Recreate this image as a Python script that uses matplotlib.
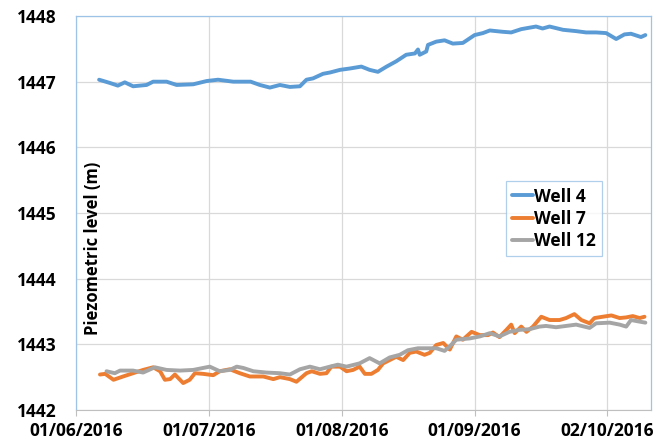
"""
plot.py: piezometric levels at wells 4, 7 and 12, June-October 2016.
Writes out.png (668x445).
"""
import matplotlib
matplotlib.use("Agg")
import matplotlib.pyplot as plt
import numpy as np
import pandas as pd

BLUE, ORANGE, GREY = "#5B9BD5", "#ED7D31", "#A5A5A5"
FRAME, GRID = "#9DC3E6", "#D9D9D9"
FONT = "Open Sans"

START = pd.Timestamp("2016-06-01")
X_MAX_DAYS = 132
TICK_DAYS = [0, 30.5, 61, 91.5, 122]
TICK_LABELS = ["01/06/2016", "01/07/2016", "01/08/2016", "01/09/2016", "02/10/2016"]
Y_TICKS = [1442, 1443, 1444, 1445, 1446, 1447, 1448]

# days since 01/06/2016, level (m)
well4_days = [5.3, 7.8, 9.6, 11.2, 13.1, 16.2, 17.7, 20.8, 23.1, 26.9, 30.0, 32.6,
              36.1, 40.1, 42.2, 44.5, 46.8, 49.1, 51.4, 52.9, 54.4, 56.7, 58.3,
              60.6, 62.8, 65.5, 67.4, 69.3, 71.3, 73.5, 75.8, 77.8, 78.5, 78.9,
              80.4, 80.8, 82.7, 84.6, 86.5, 88.8, 91.5, 93.4, 95.0, 97.9, 99.9,
              102.2, 105.6, 107.1, 108.7, 111.8, 114.8, 117.1, 119.4, 121.7,
              124.0, 125.9, 127.4, 129.7, 130.7]
well4_level = [1447.03, 1446.98, 1446.94, 1446.99, 1446.93, 1446.95, 1447.00,
               1447.00, 1446.95, 1446.96, 1447.01, 1447.03, 1447.00, 1447.00,
               1446.95, 1446.91, 1446.95, 1446.92, 1446.93, 1447.03, 1447.05,
               1447.12, 1447.14, 1447.18, 1447.20, 1447.23, 1447.18, 1447.15,
               1447.23, 1447.31, 1447.41, 1447.43, 1447.49, 1447.41, 1447.46,
               1447.56, 1447.61, 1447.63, 1447.58, 1447.59, 1447.71, 1447.74,
               1447.78, 1447.76, 1447.75, 1447.80, 1447.84, 1447.81, 1447.84,
               1447.79, 1447.77, 1447.75, 1447.75, 1447.74, 1447.65, 1447.72,
               1447.73, 1447.68, 1447.71]

well7_days = [5.5, 6.7, 8.6, 10.8, 13.1, 15.4, 17.7, 19.3, 20.4, 21.6, 22.7, 24.6,
              26.1, 27.3, 29.2, 31.5, 33.0, 35.3, 37.6, 39.9, 43.0, 45.3, 46.8,
              49.1, 50.6, 52.9, 54.1, 56.0, 57.5, 58.6, 60.6, 62.1, 63.6, 65.1,
              66.3, 67.8, 69.3, 70.5, 72.0, 73.5, 75.1, 76.6, 78.1, 80.0, 81.2,
              82.7, 84.3, 85.8, 87.3, 88.8, 90.8, 92.7, 94.6, 95.7, 97.2, 98.8,
              99.9, 100.7, 102.2, 103.4, 104.9, 106.8, 108.7, 111.0, 112.5,
              114.4, 116.0, 117.9, 119.0, 120.9, 122.9, 124.8, 126.3, 127.8,
              129.4, 130.5]
well7_level = [1442.54, 1442.55, 1442.46, 1442.51, 1442.56, 1442.61, 1442.65,
               1442.59, 1442.46, 1442.47, 1442.54, 1442.41, 1442.46, 1442.56,
               1442.55, 1442.53, 1442.59, 1442.62, 1442.56, 1442.51, 1442.51,
               1442.47, 1442.50, 1442.47, 1442.43, 1442.56, 1442.59, 1442.55,
               1442.56, 1442.66, 1442.66, 1442.59, 1442.61, 1442.66, 1442.55,
               1442.55, 1442.61, 1442.71, 1442.76, 1442.81, 1442.76, 1442.87,
               1442.89, 1442.84, 1442.87, 1442.99, 1443.02, 1442.92, 1443.12,
               1443.07, 1443.19, 1443.14, 1443.14, 1443.18, 1443.11, 1443.22,
               1443.30, 1443.17, 1443.27, 1443.19, 1443.27, 1443.42, 1443.37,
               1443.37, 1443.40, 1443.46, 1443.37, 1443.32, 1443.40, 1443.42,
               1443.44, 1443.40, 1443.41, 1443.43, 1443.40, 1443.42]

well12_days = [7.0, 8.9, 10.1, 13.1, 15.4, 18.1, 20.8, 23.9, 26.9, 30.7, 33.0,
               35.3, 36.9, 38.4, 40.7, 43.7, 46.8, 49.1, 51.4, 53.7, 56.0, 58.3,
               60.1, 62.1, 65.1, 67.4, 69.7, 72.0, 74.3, 76.2, 78.5, 81.2, 82.7,
               84.6, 85.8, 87.3, 90.4, 92.7, 95.0, 97.2, 99.5, 101.8, 104.1,
               106.4, 107.9, 110.2, 112.5, 114.8, 117.9, 119.4, 122.5, 124.8,
               126.3, 127.4, 129.0, 130.7]
well12_level = [1442.59, 1442.56, 1442.60, 1442.60, 1442.57, 1442.65, 1442.61,
                1442.60, 1442.61, 1442.66, 1442.59, 1442.61, 1442.66, 1442.64,
                1442.59, 1442.57, 1442.56, 1442.54, 1442.62, 1442.66, 1442.62,
                1442.66, 1442.69, 1442.66, 1442.71, 1442.79, 1442.71, 1442.80,
                1442.84, 1442.91, 1442.94, 1442.94, 1442.94, 1442.90, 1442.97,
                1443.07, 1443.09, 1443.12, 1443.17, 1443.12, 1443.19, 1443.22,
                1443.23, 1443.27, 1443.28, 1443.26, 1443.28, 1443.30, 1443.25,
                1443.32, 1443.33, 1443.30, 1443.27, 1443.37, 1443.35, 1443.33]


def to_dates(days):
    return START + pd.to_timedelta(np.asarray(days), unit="D")


def main():
    plt.rcParams.update({"font.family": FONT, "font.weight": "bold"})
    fig = plt.figure(figsize=(6.68, 4.45), dpi=100)
    ax = fig.add_axes([0.1138, 0.0787, 0.8608, 0.8853])

    series = [("Well 4", well4_days, well4_level, BLUE),
              ("Well 7", well7_days, well7_level, ORANGE),
              ("Well 12", well12_days, well12_level, GREY)]
    for name, d, v, c in series:
        ax.plot(to_dates(d), v, color=c, lw=2.8, label=name,
                solid_capstyle="round", solid_joinstyle="round")

    ax.set_xlim(START, START + pd.Timedelta(days=X_MAX_DAYS))
    ax.set_ylim(Y_TICKS[0], Y_TICKS[-1])
    ax.set_xticks(to_dates(TICK_DAYS))
    ax.set_xticklabels(TICK_LABELS)
    ax.set_yticks(Y_TICKS)
    ax.tick_params(axis="x", labelsize=12.5, length=4, color="#BFBFBF", pad=5)
    ax.tick_params(axis="y", labelsize=12.5, length=0, pad=14)

    ax.grid(True, color=GRID, lw=0.9)
    ax.set_axisbelow(True)
    for side in ("top", "right", "left"):
        ax.spines[side].set_color(FRAME)
        ax.spines[side].set_linewidth(0.9)
    ax.spines["bottom"].set_color("#BFBFBF")

    fig.text(93 / 668, 1 - 248 / 445, "Piezometric level (m)", rotation=90,
             ha="center", va="center", fontsize=12, fontweight="bold")

    leg = ax.legend(loc="upper left", bbox_to_anchor=(0.748, 0.58),
                    fontsize=12.5, frameon=True, fancybox=False,
                    handlelength=1.2, handletextpad=0.05, borderpad=0.35,
                    labelspacing=0.25, borderaxespad=0)
    leg.get_frame().set_edgecolor(FRAME)
    leg.get_frame().set_linewidth(0.9)
    for t in leg.get_texts():
        t.set_fontweight("bold")

    fig.savefig("out.png", dpi=100)


if __name__ == "__main__":
    main()
